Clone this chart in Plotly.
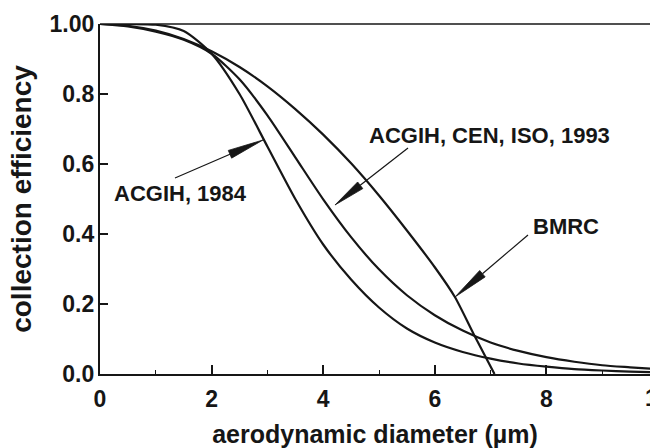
import math
import plotly.graph_objects as go

# ---- data (aerodynamic diameter in um, efficiency 0-1) ----
d_acgih1984 = [0, 0.5, 1.0, 1.5, 2.0, 2.5, 3.0, 3.5, 4.0, 4.5, 5.0, 5.5, 6.0, 6.5, 7.0, 7.5, 8.0, 8.5, 9.0, 9.5, 10.0]
e_acgih1984 = [1.00, 1.00, 0.998, 0.98, 0.915, 0.80, 0.65, 0.50, 0.37, 0.27, 0.19, 0.13, 0.09, 0.063, 0.044, 0.030, 0.021, 0.014, 0.010, 0.007, 0.005]

d_iso1993 = [0, 0.5, 1.0, 1.5, 2.0, 2.5, 3.0, 3.5, 4.0, 4.5, 5.0, 5.5, 6.0, 6.5, 7.0, 7.5, 8.0, 8.5, 9.0, 9.5, 10.0]
e_iso1993 = [1.00, 0.993, 0.978, 0.955, 0.915, 0.842, 0.739, 0.619, 0.499, 0.391, 0.299, 0.225, 0.168, 0.124, 0.090, 0.066, 0.048, 0.035, 0.025, 0.019, 0.0135]

d_bmrc = [0, 0.5, 1.0, 1.5, 2.0, 2.5, 3.0, 3.5, 4.0, 4.5, 5.0, 5.5, 6.0, 6.36, 6.7, 7.07]
e_bmrc = [1.00, 0.995, 0.981, 0.957, 0.922, 0.877, 0.822, 0.757, 0.684, 0.602, 0.51, 0.41, 0.305, 0.22, 0.113, 0.0]

x_tick_vals = [0, 2, 4, 6, 8]
x_tick_text = ["0", "2", "4", "6", "8"]
y_tick_vals = [0, 0.2, 0.4, 0.6, 0.8, 1.0]
y_tick_text = ["0.0", "0.2", "0.4", "0.6", "0.8", "1.00"]

label_1984 = "ACGIH, 1984"
label_iso = "ACGIH, CEN, ISO, 1993"
label_bmrc = "BMRC"

# ---- layout geometry (pixels; body margin removed by post_script) ----
W, H = 650, 448
L_SCR, T_SCR = 100, 24          # plot-area left / top
PW, PH = 550, 350
PX_PER_UM = 55.8
X_MAX = PW / PX_PER_UM
M_L = L_SCR
M_T = T_SCR
M_R = W - M_L - PW
M_B = H - M_T - PH

FONT = "Liberation Sans, Arial, Helvetica, sans-serif"
INK = "#161616"


def paper(px, py):
    """pixel -> paper coordinates"""
    return (px - L_SCR) / PW, (T_SCR + PH - py) / PH


fig = go.Figure()
for xs, ys in [(d_acgih1984, e_acgih1984), (d_iso1993, e_iso1993), (d_bmrc, e_bmrc)]:
    fig.add_trace(go.Scatter(x=xs, y=ys, mode="lines",
                             line=dict(color=INK, width=2.2, shape="spline", smoothing=0.7),
                             showlegend=False, hoverinfo="skip"))

shapes = []
# thin top frame line
shapes.append(dict(type="line", xref="paper", yref="paper", x0=0, x1=1, y0=1, y1=1,
                   line=dict(color=INK, width=1.3)))


def arrow(start, tip, length=34, half_w=4.2):
    sx, sy = start
    tx, ty = tip
    dx, dy = tx - sx, ty - sy
    n = math.hypot(dx, dy)
    ux, uy = dx / n, dy / n
    bx, by = tx - ux * length, ty - uy * length
    nx, ny = -uy, ux
    p1 = paper(bx + nx * half_w, by + ny * half_w)
    p2 = paper(bx - nx * half_w, by - ny * half_w)
    pt = paper(tx, ty)
    ps = paper(sx, sy)
    pb = paper(bx, by)
    shapes.append(dict(type="line", xref="paper", yref="paper", x0=ps[0], y0=ps[1], x1=pb[0], y1=pb[1],
                       line=dict(color=INK, width=1.2)))
    path = "M {:.5f},{:.5f} L {:.5f},{:.5f} L {:.5f},{:.5f} Z".format(pt[0], pt[1], p1[0], p1[1], p2[0], p2[1])
    shapes.append(dict(type="path", xref="paper", yref="paper", path=path,
                       fillcolor=INK, line=dict(color=INK, width=0.8)))


arrow((175, 178), (263, 140), length=36)
arrow((408, 148), (335, 205), length=32)
arrow((528, 235), (455, 297), length=36)

annotations = []
for text, (cx, cy) in [(label_1984, (180, 193)), (label_iso, (489, 135)), (label_bmrc, (566, 226))]:
    px_, py_ = paper(cx, cy)
    annotations.append(dict(text=text, xref="paper", yref="paper", x=px_, y=py_,
                            xanchor="center", yanchor="middle", showarrow=False,
                            font=dict(family=FONT, size=22, color=INK, weight="bold")))
# the "10" tick label, cut by the right page edge as in the reference
tx, ty = paper(L_SCR + 10 * PX_PER_UM, 398)
annotations.append(dict(text="10", xref="paper", yref="paper", x=tx, y=ty,
                        xanchor="center", yanchor="middle", showarrow=False,
                        font=dict(family=FONT, size=23, color=INK, weight="bold")))

fig.update_layout(
    width=W, height=H,
    margin=dict(l=M_L, r=M_R, t=M_T, b=M_B, pad=0, autoexpand=False),
    paper_bgcolor="white", plot_bgcolor="white",
    shapes=shapes, annotations=annotations,
    xaxis=dict(range=[0, X_MAX], showgrid=False, zeroline=False, automargin=False,
               showline=True, linecolor=INK, linewidth=2.2,
               ticks="inside", ticklen=9, tickwidth=1.5, tickcolor=INK,
               tickvals=x_tick_vals, ticktext=x_tick_text,
               tickfont=dict(family=FONT, size=23, color=INK, weight="bold"),
               ticklabelstandoff=3,
               minor=dict(tickvals=[1, 3, 5, 7, 9], ticks="inside", ticklen=4, tickwidth=1, tickcolor=INK),
               title=dict(text="aerodynamic diameter (\u00b5m)", standoff=20,
                          font=dict(family=FONT, size=25, color=INK, weight="bold"))),
    yaxis=dict(range=[0, 1], showgrid=False, zeroline=False, automargin=False,
               showline=True, linecolor=INK, linewidth=2.2,
               ticks="inside", ticklen=8, tickwidth=1.5, tickcolor=INK,
               tickvals=y_tick_vals, ticktext=y_tick_text,
               tickfont=dict(family=FONT, size=23, color=INK, weight="bold"),
               ticklabelstandoff=-1,
               title=dict(text="collection efficiency", standoff=10,
                          font=dict(family=FONT, size=28, color=INK, weight="bold"))),
)

fig.write_html("out.html",
               config={"displayModeBar": False},
               post_script="document.body.style.margin='0';document.body.style.overflow='hidden';")
